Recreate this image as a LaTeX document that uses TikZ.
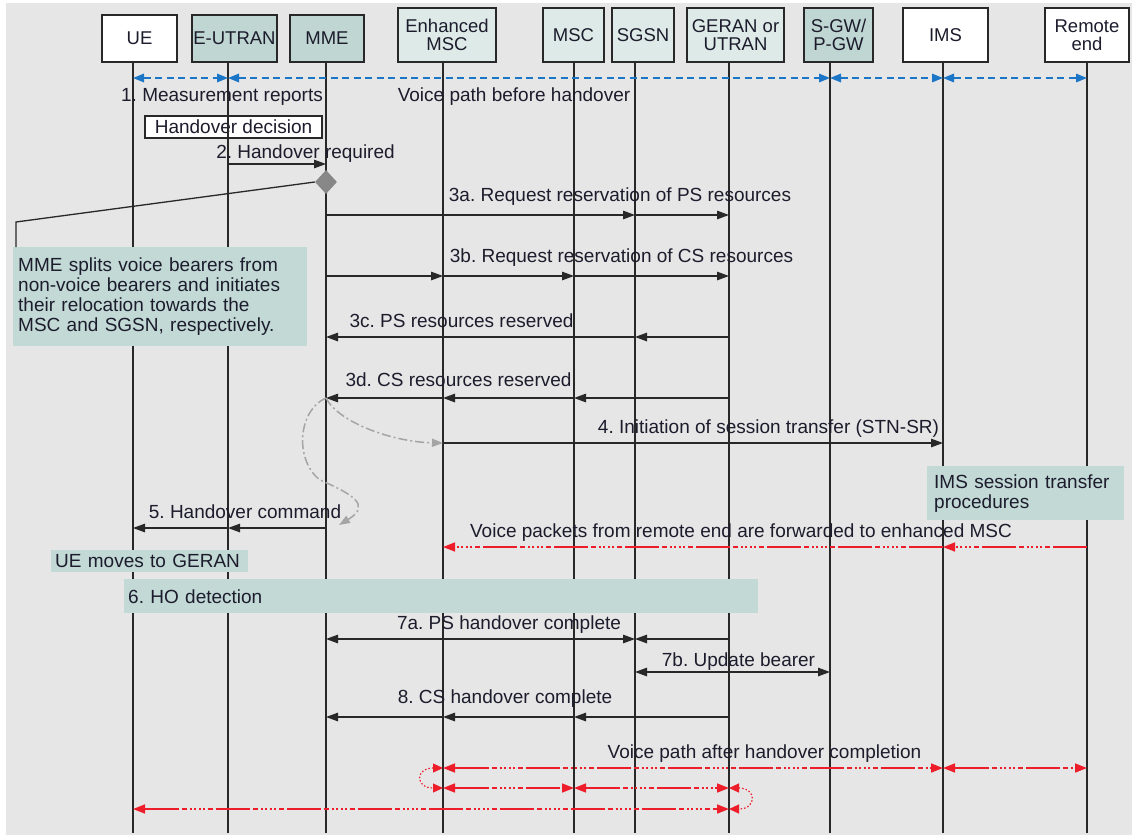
\documentclass[tikz,border=0pt]{standalone}
\usepackage{fontspec}
\setmainfont{Liberation Sans}
\usetikzlibrary{arrows.meta,shapes.geometric}
\frenchspacing

\definecolor{paper}{RGB}{230,230,230}
\definecolor{ink}{RGB}{28,28,44}
\definecolor{rule}{RGB}{40,40,40}
\definecolor{tealD}{RGB}{191,214,210}
\definecolor{tealL}{RGB}{222,234,231}
\definecolor{noteF}{RGB}{194,217,214}
\definecolor{voiceBlue}{RGB}{28,118,200}
\definecolor{voiceRed}{RGB}{237,30,42}
\definecolor{hintGray}{RGB}{165,165,165}
\definecolor{diamondF}{RGB}{135,135,135}

\tikzset{
  lbl/.style={inner sep=0pt, text=ink, font=\fontsize{19}{20}\selectfont},
  head/.style={draw=rule, line width=1.5pt, inner sep=0pt, align=center, text=ink,
     font=\fontsize{18.5}{18}\selectfont, minimum height=47pt},
  tall/.style={minimum height=54pt},
  life/.style={draw=rule, line width=1.3pt},
  msg/.style={draw=rule, line width=1.3pt, -{Triangle[length=12pt,width=8.5pt]}},
  msgboth/.style={draw=rule, line width=1.3pt,
     {Triangle[length=12pt,width=8.5pt]}-{Triangle[length=12pt,width=8.5pt]}},
  bluepath/.style={draw=voiceBlue, line width=1.6pt, dash pattern=on 7pt off 4.5pt,
     {Triangle[length=11pt,width=8.5pt]}-{Triangle[length=11pt,width=8.5pt]}},
  redpath/.style={draw=voiceRed, line width=1.6pt,
     dash pattern=on 34pt off 3pt on 5pt off 3pt on 2pt off 2.5pt on 2pt off 2.5pt on 2pt off 2.5pt on 2pt off 2.5pt on 5pt off 3pt},
  redboth/.style={redpath, {Triangle[length=12pt,width=9pt]}-{Triangle[length=12pt,width=9pt]}},
  redone/.style={redpath, -{Triangle[length=12pt,width=9pt]}},
  redloop/.style={draw=voiceRed, line width=1.2pt, dash pattern=on 1.5pt off 2pt,
     {Triangle[length=10pt,width=9pt]}-{Triangle[length=10pt,width=9pt]}},
  hint/.style={draw=hintGray, line width=1.5pt, dash pattern=on 9pt off 3pt on 2pt off 3pt,
     -{Triangle[length=11pt,width=8pt]}},
  note/.style={fill=noteF, inner xsep=5pt, inner ysep=0pt, text=ink, align=left,
     font=\fontsize{19}{20}\selectfont, anchor=north west},
}

\begin{document}
\begin{tikzpicture}[x=1pt,y=-1pt]
\useasboundingbox (0,0) rectangle (1132,839);
\fill[white] (0,0) rectangle (1132,839);
\fill[paper] (6,3) rectangle (1132,835);

% participants
\node[head, fill=white, minimum width=75pt] (ue) at (139.5,38.5) {UE};
\node[head, fill=tealD, minimum width=85pt] (eutran) at (234.5,38.5) {E-UTRAN};
\node[head, fill=tealD, minimum width=74pt] (mme) at (327,38.5) {MME};
\node[head, tall, fill=tealL, minimum width=98pt] (emsc) at (447,35) {Enhanced\\MSC};
\node[head, tall, fill=tealL, minimum width=61pt] (msc) at (573.5,35) {MSC};
\node[head, tall, fill=tealL, minimum width=62pt] (sgsn) at (643,35) {SGSN};
\node[head, tall, fill=tealL, minimum width=97pt] (geran) at (735.5,35) {GERAN or\\UTRAN};
\node[head, tall, fill=tealD, minimum width=69pt] (sgw) at (838.5,35) {S-GW/\\P-GW};
\node[head, tall, fill=white, minimum width=85pt] (ims) at (945.5,35) {IMS};
\node[head, tall, fill=white, minimum width=84pt] (rem) at (1087,35) {Remote\\end};

% lifeline tops
\coordinate (lue) at (133,62);
\coordinate (leutran) at (228,62);
\coordinate (lmme) at (326,62);
\coordinate (lemsc) at (443,62);
\coordinate (lmsc) at (574,62);
\coordinate (lsgsn) at (635,62);
\coordinate (lgeran) at (729,62);
\coordinate (lsgw) at (830,62);
\coordinate (lims) at (943,62);
\coordinate (lrem) at (1087,62);
\coordinate (bot) at (0,833);

% message rows
\coordinate (r1) at (0,78);
\coordinate (r2) at (0,164);
\coordinate (rd) at (0,182);
\coordinate (r3a) at (0,215);
\coordinate (r3b) at (0,276);
\coordinate (r3c) at (0,337);
\coordinate (r3d) at (0,398);
\coordinate (r4) at (0,443);
\coordinate (r5) at (0,528);
\coordinate (rvp) at (0,547);
\coordinate (r7a) at (0,639);
\coordinate (r7b) at (0,672);
\coordinate (r8) at (0,717);
\coordinate (rA) at (0,768);
\coordinate (rB) at (0,788);
\coordinate (rC) at (0,809);

% decision box sits under the lifelines
\node[lbl, draw=rule, line width=1.3pt, fill=white, minimum width=177pt, minimum height=22pt]
  (hd) at (233.5,127) {Handover decision};

% lifelines
\foreach \p in {ue,eutran,mme,emsc,msc,sgsn,geran,sgw,ims,rem}
  \draw[life] (l\p) -- (l\p |- bot);

% notes covering the lifelines
\node[note, text width=284pt, minimum height=99pt] (split) at (13,247)
  {MME splits voice bearers from\\non-voice bearers and initiates\\their relocation towards the\\MSC and SGSN, respectively.};
\node[note, inner xsep=7pt, text width=183pt, minimum height=54pt] (imsnote) at (927,466)
  {IMS session transfer\\procedures};
\node[note, inner xsep=4pt, text width=189pt, minimum height=22pt] (moves) at (51,550)
  {UE moves to GERAN};
\node[note, inner xsep=4pt, text width=626pt, minimum height=34pt] (hodet) at (124,579)
  {6. HO detection};

% voice path before handover
\draw[bluepath] (lue |- r1) -- (leutran |- r1);
\draw[bluepath] (leutran |- r1) -- (lsgw |- r1);
\draw[bluepath] (lsgw |- r1) -- (lims |- r1);
\draw[bluepath] (lims |- r1) -- (lrem |- r1);
\node[lbl] (t1) at (222,97) {1. Measurement reports};
\node[lbl] (tvb) at (514,97) {Voice path before handover};

% 2. handover required
\node[lbl] (t2) at (305.5,154) {2. Handover required};
\draw[msg] (leutran |- r2) -- (lmme |- r2);

% split marker and its callout
\node[diamond, fill=diamondF, minimum width=22pt, minimum height=24pt, inner sep=0pt]
  (dm) at (lmme |- rd) {};
\coordinate (bend) at (16,222);
\draw[rule, line width=1.3pt] (dm.west) -- (bend) -- (bend |- split.north);

% 3a-3d
\node[lbl] (t3a) at (620,197) {3a. Request reservation of PS resources};
\draw[msg] (lmme |- r3a) -- (lsgsn |- r3a);
\draw[msg] (lsgsn |- r3a) -- (lgeran |- r3a);

\node[lbl] (t3b) at (621.5,258) {3b. Request reservation of CS resources};
\draw[msg] (lmme |- r3b) -- (lemsc |- r3b);
\draw[msg] (lemsc |- r3b) -- (lmsc |- r3b);
\draw[msg] (lmsc |- r3b) -- (lgeran |- r3b);

\node[lbl] (t3c) at (461.5,321) {3c. PS resources reserved};
\draw[msg] (lgeran |- r3c) -- (lsgsn |- r3c);
\draw[msg] (lsgsn |- r3c) -- (lmme |- r3c);

\node[lbl] (t3d) at (458.5,380) {3d. CS resources reserved};
\draw[msg] (lgeran |- r3d) -- (lmsc |- r3d);
\draw[msg] (lmsc |- r3d) -- (lemsc |- r3d);
\draw[msg] (lemsc |- r3d) -- (lmme |- r3d);

% 4. session transfer
\node[lbl] (t4) at (768.5,429) {4. Initiation of session transfer (STN-SR)};
\draw[msg] (lemsc |- r4) -- (lims |- r4);

% causal hints from the MME
\coordinate (hintEnd) at (339,525);
\draw[hint] (lmme |- r3d) .. controls (338,422) and (392,442) .. (lemsc |- r4);
\draw[hint] (lmme |- r3d) .. controls (298,410) and (294,460) .. (320,480)
  .. controls (352,494) and (372,505) .. (hintEnd);

% 5. handover command
\node[lbl] (t5) at (245,512) {5. Handover command};
\draw[msg] (lmme |- r5) -- (leutran |- r5);
\draw[msg] (leutran |- r5) -- (lue |- r5);

% forwarded voice packets
\node[lbl] (tvp) at (741,533) {Voice packets from remote end are forwarded to enhanced MSC};
\draw[redone] (lrem |- rvp) -- (lims |- rvp);
\draw[redone] (lims |- rvp) -- (lemsc |- rvp);

% 7a, 7b, 8
\node[lbl] (t7a) at (509,625) {7a. PS handover complete};
\draw[msgboth] (lmme |- r7a) -- (lsgsn |- r7a);
\draw[msg] (lgeran |- r7a) -- (lsgsn |- r7a);

\node[lbl] (t7b) at (738.5,662) {7b. Update bearer};
\draw[msgboth] (lsgsn |- r7b) -- (lsgw |- r7b);

\node[lbl] (t8) at (505,699) {8. CS handover complete};
\draw[msg] (lgeran |- r8) -- (lmsc |- r8);
\draw[msg] (lmsc |- r8) -- (lemsc |- r8);
\draw[msg] (lemsc |- r8) -- (lmme |- r8);

% voice path after handover completion
\node[lbl] (tva) at (764.5,754) {Voice path after handover completion};
\draw[redboth] (lemsc |- rA) -- (lims |- rA);
\draw[redboth] (lims |- rA) -- (lrem |- rA);
\draw[redboth] (lemsc |- rB) -- (lmsc |- rB);
\draw[redboth] (lmsc |- rB) -- (lgeran |- rB);
\draw[redboth] (lue |- rC) -- (lgeran |- rC);
\draw[redloop] (lemsc |- rA) .. controls +(-28,0) and +(-28,0) .. (lemsc |- rB);
\draw[redloop] (lgeran |- rB) .. controls +(28,0) and +(28,0) .. (lgeran |- rC);
\end{tikzpicture}
\end{document}
